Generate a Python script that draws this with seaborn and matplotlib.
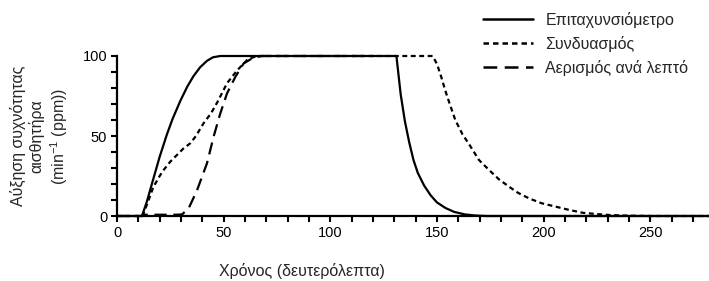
import numpy as np
import pandas as pd
import matplotlib
matplotlib.use("Agg")
import matplotlib.pyplot as plt
import seaborn as sns

# ---- data ----
series_names = ["Επιταχυνσιόμετρο", "Συνδυασμός", "Αερισμός ανά λεπτό"]

t_acc = [0, 11.7, 14, 17.2, 20, 23.4, 26, 29.7, 33, 35.9, 39, 42.2, 45, 48.4,
         131, 133, 135, 137, 139, 141, 144, 147, 150, 154, 158, 163, 168, 173, 280]
v_acc = [0, 0, 9, 24, 37, 51, 60.5, 72, 81, 87.5, 93, 97, 99.2, 100,
         100, 76, 59, 46, 35, 27, 19, 13, 8.5, 5, 2.6, 1, 0.3, 0, 0]

t_comb = [0, 12, 14, 17, 20, 22, 25, 28, 31, 34.4, 37, 40.6, 44, 47, 51.6, 56.3, 61, 64, 67,
          148, 150, 152, 154, 156, 158.6, 162, 165, 169.7, 174.4, 179, 183.8, 188, 193.2,
          199, 205.8, 212, 218.4, 225, 231, 240, 250, 280]
v_comb = [0, 0, 7, 18, 25, 29, 34, 38, 42, 45.5, 50, 58, 64, 71, 83, 91, 97.5, 99.3, 100,
          100, 95, 87, 78, 70, 60, 51, 45, 35, 28.8, 23, 18.3, 14.5, 11,
          8, 5.8, 3.8, 2, 1.2, 0.6, 0.2, 0, 0]

t_mv = [0, 12, 13, 28, 30.5, 33.6, 37.5, 42.2, 45.3, 48.4, 51.6, 55.5, 59.4, 64, 68, 120]
v_mv = [0, 0, 0.8, 0.8, 1, 4.8, 16, 33, 49.6, 64, 76.7, 87, 95.4, 99, 100, 100]

x_ticks = [0, 50, 100, 150, 200, 250]
y_ticks = [0, 50, 100]

df = pd.concat([
    pd.DataFrame({"t": t_acc, "v": v_acc, "series": series_names[0]}),
    pd.DataFrame({"t": t_comb, "v": v_comb, "series": series_names[1]}),
    pd.DataFrame({"t": t_mv, "v": v_mv, "series": series_names[2]}),
], ignore_index=True)

sns.set_theme(style="ticks")
plt.rcParams["font.family"] = ["Liberation Sans", "DejaVu Sans"]
plt.rcParams["mathtext.fontset"] = "custom"
plt.rcParams["mathtext.rm"] = "Liberation Sans"
plt.rcParams["mathtext.it"] = "Liberation Sans:italic"

W, H = 709, 281
fig = plt.figure(figsize=(W / 100, H / 100), dpi=100)
px_per_unit = 2.133
ax = fig.add_axes([117 / W, (H - 216) / H, 280 * px_per_unit / W, 160 / H])

sns.lineplot(data=df, x="t", y="v", style="series", style_order=series_names,
             dashes={series_names[0]: "", series_names[1]: (2.2, 1.6),
                     series_names[2]: (5.5, 3.0)},
             color="black", linewidth=1.6, errorbar=None, ax=ax, clip_on=False)

ax.set_xlim(0, 280)
ax.set_ylim(0, 100)
ax.set_xticks(x_ticks)
ax.set_yticks(y_ticks)
ax.set_xticks(np.arange(0, 281, 10), minor=True)
ax.set_yticks(np.arange(0, 101, 10), minor=True)
ax.tick_params(which="both", direction="out", length=4, width=1.5, color="black",
               labelsize=10.5, pad=3, labelcolor="black")
sns.despine(ax=ax)
for s in ["left", "bottom"]:
    ax.spines[s].set_linewidth(1.6)
    ax.spines[s].set_color("black")

ax.set_xlabel("Χρόνος (δευτερόλεπτα)", fontsize=11.5, va="center")
ax.xaxis.set_label_coords(0.31, -0.344)
ax.set_ylabel("Αύξηση συχνότητας\nαισθητήρα\n(min$^{-1}$ (ppm))", fontsize=11.5,
              va="center", ha="center", multialignment="center", linespacing=1.2)
ax.yaxis.set_label_coords(-0.129, 0.5)

leg = ax.legend(loc="upper left", bbox_to_anchor=(483 / W, 1 - 12 / H),
                bbox_transform=fig.transFigure, frameon=False, fontsize=11.5,
                handlelength=3.1, handletextpad=0.8, labelspacing=0.5,
                borderpad=0, borderaxespad=0, title=None)
for line in leg.get_lines():
    line.set_linewidth(1.8)

fig.savefig("out.png", dpi=100, facecolor="white")
